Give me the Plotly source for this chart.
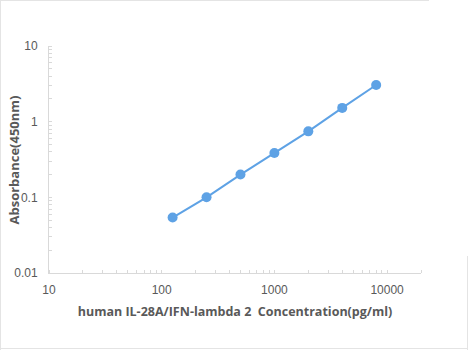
import plotly.graph_objects as go

concentration = [125, 250, 500, 1000, 2000, 4000, 8000]
absorbance = [0.054, 0.100, 0.200, 0.385, 0.745, 1.52, 3.05]
x_ticks = [10, 100, 1000, 10000]
x_tick_labels = ["10", "100", "1000", "10000"]
y_ticks = [0.01, 0.1, 1, 10]
y_tick_labels = ["0.01", "0.1", "1", "10"]

blue = "#5EA2E5"
axis_gray = "#D9D9D9"
text_gray = "#595959"
frame_gray = "#E4E4E4"

W, H = 468, 350
ML, MR, MT, MB = 49, 47, 46, 77
PW, PH = W - ML - MR, H - MT - MB


def px(x):
    return (x - ML) / PW


def py(y):
    return (H - MB - y) / PH


fig = go.Figure(
    go.Scatter(
        x=concentration,
        y=absorbance,
        mode="lines+markers",
        line=dict(color=blue, width=2),
        marker=dict(color=blue, size=10),
        showlegend=False,
    )
)

frame = dict(type="line", xref="paper", yref="paper", line=dict(color=frame_gray, width=1), layer="below")
shapes = [
    dict(frame, x0=px(0.5), x1=px(0.5), y0=py(0), y1=py(350)),
    dict(frame, x0=px(0), x1=px(468), y0=py(348.5), y1=py(348.5)),
    dict(frame, x0=px(0), x1=px(429), y0=py(0.5), y1=py(0.5)),
    dict(frame, x0=px(467.5), x1=px(467.5), y0=py(256), y1=py(350)),
]

fig.update_layout(
    width=W,
    height=H,
    margin=dict(l=ML, r=MR, t=MT, b=MB),
    paper_bgcolor="white",
    plot_bgcolor="white",
    font=dict(family="Liberation Sans", color=text_gray),
    shapes=shapes,
    annotations=[
        dict(
            text="<b>Absorbance(450nm)</b>",
            xref="paper", yref="paper",
            x=px(13.5), y=py(160),
            xanchor="center", yanchor="middle",
            textangle=-90, showarrow=False,
            font=dict(size=13, color=text_gray, family="Open Sans"),
        )
    ],
)

fig.update_xaxes(
    type="log",
    range=[1, 4.301],
    tickvals=x_ticks,
    ticktext=x_tick_labels,
    showgrid=False,
    zeroline=False,
    showline=True,
    linecolor=axis_gray,
    linewidth=1,
    ticks="",
    automargin=False,
    ticklabelstandoff=6,
    tickfont=dict(size=12, color=text_gray),
    minor=dict(ticks="inside", ticklen=3, tickcolor=axis_gray, dtick="D1", showgrid=False),
    title=dict(
        text="<b>human IL-28A/IFN-lambda 2\u00a0 Concentration(pg/ml)</b>",
        font=dict(size=12.5, color=text_gray, family="Open Sans"),
        standoff=10,
    ),
)

fig.update_yaxes(
    type="log",
    range=[-2, 1],
    tickvals=y_ticks,
    ticktext=y_tick_labels,
    showgrid=False,
    zeroline=False,
    showline=True,
    linecolor=axis_gray,
    linewidth=1,
    ticks="",
    automargin=False,
    ticklabelstandoff=8,
    tickfont=dict(size=12, color=text_gray),
    minor=dict(ticks="inside", ticklen=3, tickcolor=axis_gray, dtick="D1", showgrid=False),
)

fig.write_html("out.html")
